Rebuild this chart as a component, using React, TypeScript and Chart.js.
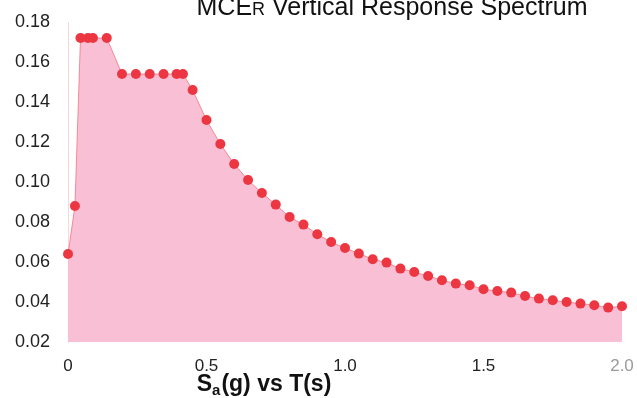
import React, { useEffect, useRef } from "react";
import { Chart, registerables } from "chart.js";

Chart.register(...registerables);

// Period T (s)
const periods: number[] = [
  0, 0.025, 0.045, 0.072, 0.09, 0.14,
  0.195, 0.245, 0.295, 0.345, 0.392, 0.415,
  0.45, 0.5, 0.55, 0.6, 0.65, 0.7, 0.75, 0.8, 0.85, 0.9, 0.95, 1.0,
  1.05, 1.1, 1.15, 1.2, 1.25, 1.3, 1.35, 1.4, 1.45, 1.5,
  1.55, 1.6, 1.65, 1.7, 1.75, 1.8, 1.85, 1.9, 1.95, 2.0,
];

// Vertical spectral acceleration Sa (g)
const saValues: number[] = [
  0.064, 0.088, 0.172, 0.172, 0.172, 0.172,
  0.154, 0.154, 0.154, 0.154, 0.154, 0.154,
  0.146, 0.131, 0.119, 0.109, 0.101, 0.0945, 0.0887, 0.0825, 0.0787, 0.0739, 0.07, 0.067,
  0.0642, 0.0614, 0.0597, 0.0567, 0.055, 0.053, 0.0509, 0.0492, 0.0484, 0.0464,
  0.0455, 0.0447, 0.043, 0.0417, 0.0409, 0.04, 0.0392, 0.0384, 0.0372, 0.0379,
];

const xTickValues: number[] = [0, 0.5, 1.0, 1.5, 2.0];
const xTickLabels: string[] = ["0", "0.5", "1.0", "1.5", "2.0"];

const FONT = '"Liberation Sans", Arial, Helvetica, sans-serif';

const textPlugin = {
  id: "customTexts",
  afterDraw(chart: any) {
    const ctx = chart.ctx as CanvasRenderingContext2D;
    ctx.save();
    ctx.fillStyle = "#111";
    ctx.textBaseline = "alphabetic";
    ctx.textAlign = "left";

    // Title: MCE_R Vertical Response Spectrum
    const big = `25px ${FONT}`;
    const small = `18px ${FONT}`;
    ctx.font = big;
    const w1 = ctx.measureText("MCE").width;
    const w3 = ctx.measureText(" Vertical Response Spectrum").width;
    ctx.font = small;
    const w2 = ctx.measureText("R").width;
    const total = w1 + w2 + w3;
    let x = 392 - total / 2;
    const by = 14.5;
    ctx.font = big;
    ctx.fillText("MCE", x, by);
    x += w1;
    ctx.font = small;
    ctx.fillText("R", x, by);
    x += w2;
    ctx.font = big;
    ctx.fillText(" Vertical Response Spectrum", x, by);

    // X axis title: S_a(g) vs T(s)
    const xb = `bold 23px ${FONT}`;
    const xs = `bold 15px ${FONT}`;
    ctx.font = xb;
    const a1 = ctx.measureText("S").width;
    const a3 = ctx.measureText("(g) vs T(s)").width;
    ctx.font = xs;
    const a2 = ctx.measureText("a").width + 1;
    const tot2 = a1 + a2 + a3;
    let x2 = 264 - tot2 / 2;
    const by2 = 391;
    ctx.font = xb;
    ctx.fillText("S", x2, by2);
    x2 += a1;
    ctx.font = xs;
    ctx.fillText("a", x2, by2 + 4);
    x2 += a2;
    ctx.font = xb;
    ctx.fillText("(g) vs T(s)", x2, by2);
    ctx.restore();
  },
};

export default function App() {
  const ref = useRef<HTMLCanvasElement | null>(null);

  useEffect(() => {
    if (!ref.current) return;
    const data = periods.map((t, i) => ({ x: t, y: saValues[i] }));
    const chart = new Chart(ref.current, {
      type: "line",
      data: {
        datasets: [
          {
            label: "Sa",
            data,
            borderColor: "rgba(238, 70, 85, 0.55)",
            borderWidth: 1,
            backgroundColor: "rgba(249, 192, 213, 1)",
            fill: "start",
            tension: 0,
            pointRadius: 5,
            pointBackgroundColor: "#ec3642",
            pointBorderColor: "#ec3642",
            pointBorderWidth: 0,
            clip: false as any,
          },
        ],
      },
      options: {
        animation: false,
        responsive: false,
        devicePixelRatio: 1,
        layout: { padding: { top: 22, right: 15, bottom: 0, left: 0 } },
        plugins: {
          legend: { display: false },
          tooltip: { enabled: false },
          title: { display: false },
        },
        scales: {
          x: {
            type: "linear",
            min: 0,
            max: 2,
            afterBuildTicks: (scale: any) => {
              scale.ticks = xTickValues.map((v) => ({ value: v }));
            },
            afterFit: (scale: any) => {
              scale.height = 56;
              scale.paddingLeft = 0;
              scale.paddingRight = 0;
            },
            grid: { display: false, drawTicks: false },
            border: { display: false },
            ticks: {
              padding: 14,
              maxRotation: 0,
              autoSkip: false,
              font: { family: FONT, size: 17 },
              color: (c: any) => (c.index === 4 ? "#9a9a9a" : "#222"),
              callback: (v: any) => {
                const i = xTickValues.findIndex((t) => Math.abs(t - Number(v)) < 1e-6);
                return i >= 0 ? xTickLabels[i] : "";
              },
            },
          },
          y: {
            type: "linear",
            min: 0.02,
            max: 0.18,
            afterFit: (scale: any) => {
              scale.width = 68;
              scale.paddingTop = 0;
              scale.paddingBottom = 0;
            },
            grid: { display: false, drawTicks: false },
            border: { display: true, color: "rgba(235, 120, 140, 0.3)", width: 1 },
            ticks: {
              stepSize: 0.02,
              padding: 18,
              font: { family: FONT, size: 18 },
              color: "#222",
              callback: (v: any) => Number(v).toFixed(2),
            },
          },
        },
      },
      plugins: [textPlugin],
    });
    return () => chart.destroy();
  }, []);

  return (
    <div style={{ position: "fixed", left: 0, top: 0, width: 637, height: 398, background: "#fff" }}>
      <canvas ref={ref} width={637} height={398} style={{ display: "block" }} />
    </div>
  );
}
